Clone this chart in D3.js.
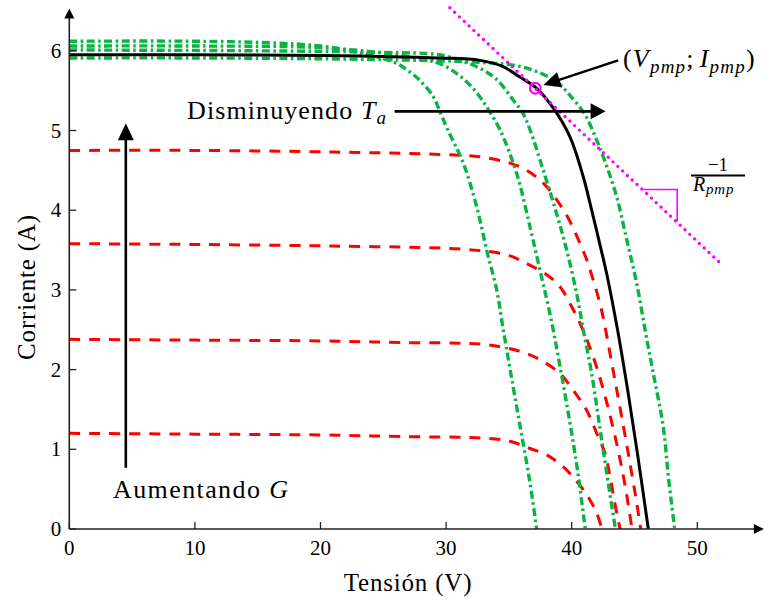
<!DOCTYPE html>
<html>
<head>
<meta charset="utf-8">
<script src="https://cdn.jsdelivr.net/npm/d3@7"></script>
<style>
  body { margin: 0; background: #fff; }
  svg text { font-family: "Liberation Serif", "Times New Roman", Tinos, "DejaVu Serif", serif; }
</style>
</head>
<body>
<div id="chart"></div>
<script>
const WIDTH = 764;
const HEIGHT = 601;
const X_END = 55.3;
const Y_END = 6.53;
const SERIF = '"Liberation Serif", "Times New Roman", Tinos, "DejaVu Serif", serif';

// tick labels
const X_TICKS = [0, 10, 20, 30, 40, 50];
const Y_TICKS = [0, 1, 2, 3, 4, 5, 6];

// reference curve (black), [V, I]
const CURVE_STC = [[0, 5.95], [10, 5.95], [20, 5.94], [24.7, 5.93], [29.5, 5.91], [32.7, 5.88],
  [34.55, 5.80], [35.88, 5.67], [37.21, 5.53], [38.54, 5.28], [39.86, 4.92], [40.92, 4.42],
  [41.59, 4.0], [42.2, 3.6], [42.79, 3.2], [43.65, 2.5], [44.45, 1.75], [45.25, 0.93], [46.1, 0]];

// temperature curves (green dash-dot)
const TEMP_1 = [[0, 6.12], [10, 6.12], [16, 6.10], [20, 6.06], [23, 5.98], [25.8, 5.86], [26.9, 5.76],
  [27.9, 5.63], [29.0, 5.42], [29.5, 5.24], [30.1, 5.02], [31.37, 4.59], [32.44, 4.04], [33.23, 3.5],
  [34.03, 3.0], [34.5, 2.55], [35.1, 2.0], [35.88, 1.3], [36.68, 0.58], [37.21, 0]];
const TEMP_2 = [[0, 6.06], [10, 6.06], [20, 6.04], [25, 5.97], [28.2, 5.89], [29.5, 5.84], [30.8, 5.72],
  [31.9, 5.57], [32.7, 5.42], [33.45, 5.24], [34.29, 5.01], [35.62, 4.46], [36.68, 3.79], [37.47, 3.25],
  [38.27, 2.7], [39.0, 2.1], [39.86, 1.33], [40.45, 0.75], [41.08, 0]];
const TEMP_3 = [[0, 6.01], [15, 6.0], [25, 5.98], [29.5, 5.95], [31.1, 5.88], [32.7, 5.78], [34.03, 5.64],
  [35.35, 5.38], [36.1, 5.22], [36.68, 5.01], [37.74, 4.5], [38.81, 3.95], [39.6, 3.5], [40.4, 2.95],
  [40.92, 2.5], [41.59, 1.95], [42.25, 1.26], [42.79, 0.7], [43.48, 0]];
const TEMP_4 = [[0, 5.91], [10, 5.91], [20, 5.9], [28, 5.88], [31.9, 5.86], [35.35, 5.82], [37.21, 5.74],
  [38.81, 5.61], [39.86, 5.44], [41.05, 5.2], [41.99, 4.88], [42.79, 4.55], [43.58, 4.17], [44.38, 3.63],
  [45.18, 3.08], [45.84, 2.5], [46.5, 1.95], [47.29, 1.28], [47.7, 0.65], [48.2, 0]];

// irradiance curves (red dashed)
const IRR_1 = [[0, 1.2], [10, 1.19], [20, 1.18], [26.35, 1.16], [32.96, 1.14], [35.09, 1.1], [36.68, 1.01],
  [38.01, 0.93], [39.33, 0.78], [40.4, 0.6], [41.32, 0.4], [41.99, 0.2], [42.4, 0]];
const IRR_2 = [[0, 2.38], [10, 2.37], [20, 2.36], [26.35, 2.34], [32.7, 2.32], [34.83, 2.27], [36.42, 2.2],
  [37.74, 2.1], [39.07, 1.95], [40.13, 1.74], [41.19, 1.49], [41.99, 1.2], [42.65, 0.95], [43.05, 0.66],
  [43.4, 0.35], [43.85, 0]];
const IRR_3 = [[0, 3.58], [10, 3.57], [21, 3.55], [31.37, 3.51], [34.83, 3.44], [36.42, 3.33], [38.01, 3.19],
  [39.07, 3.04], [39.86, 2.83], [40.66, 2.58], [41.32, 2.33], [41.99, 2.03], [42.6, 1.7], [43.2, 1.33],
  [43.75, 0.95], [44.3, 0.5], [44.8, 0]];
const IRR_4 = [[0, 4.75], [10, 4.75], [21, 4.73], [29.5, 4.7], [32.7, 4.67], [35.09, 4.59], [36.42, 4.5],
  [37.74, 4.34], [38.81, 4.13], [39.73, 3.9], [40.53, 3.63], [41.19, 3.38], [41.72, 3.12], [42.25, 2.83],
  [42.65, 2.54], [43.25, 2.03], [43.85, 1.52], [44.5, 0.95], [45.1, 0.4], [45.5, 0]];

// maximum power point and its tangent
const MPP = [37.1, 5.53];
const TANGENT = [[30.3, 6.54], [51.8, 3.34]];
const SLOPE_MARK = [[45.7, 4.26], [48.4, 4.26], [48.4, 3.86]];

let svg, x, y;

function buildScales() {
  x = d3.scaleLinear().domain([0, 50]).range([69.3, 697.3]);
  y = d3.scaleLinear().domain([0, 6]).range([529, 50.8]);
}

function arrow(g, from, to, len, half, width) {
  let x1 = x(from[0]), y1 = y(from[1]);
  let x2 = x(to[0]), y2 = y(to[1]);
  let a = Math.atan2(y2 - y1, x2 - x1);
  let bx = x2 - len * Math.cos(a), by = y2 - len * Math.sin(a);
  g.append('line')
    .attr('x1', x1).attr('y1', y1)
    .attr('x2', bx + 2 * Math.cos(a)).attr('y2', by + 2 * Math.sin(a))
    .attr('stroke', '#000')
    .attr('stroke-width', width);
  g.append('path')
    .attr('d', `M${x2},${y2} L${bx - half * Math.sin(a)},${by + half * Math.cos(a)} L${bx + half * Math.sin(a)},${by - half * Math.cos(a)} Z`)
    .attr('fill', '#000');
}

function buildAxis() {
  let g = svg.append('g').attr('class', 'axisGroup');

  g.append('line')
    .attr('x1', x(0)).attr('y1', y(0)).attr('x2', x(X_END) - 8).attr('y2', y(0))
    .attr('stroke', '#222').attr('stroke-width', 1.6);
  g.append('line')
    .attr('x1', x(0)).attr('y1', y(0)).attr('x2', x(0)).attr('y2', y(Y_END) + 8)
    .attr('stroke', '#222').attr('stroke-width', 1.6);
  g.append('path')
    .attr('d', `M${x(X_END)},${y(0)} l-10,-5 l0,10 Z`)
    .attr('fill', '#000');
  g.append('path')
    .attr('d', `M${x(0)},${y(Y_END)} l-5,10 l10,0 Z`)
    .attr('fill', '#000');

  g.selectAll('.xtick')
    .data(X_TICKS)
    .enter()
    .append('line')
    .attr('class', 'xtick')
    .attr('x1', (d) => x(d)).attr('x2', (d) => x(d))
    .attr('y1', y(0)).attr('y2', y(0) - 7)
    .attr('stroke', '#222').attr('stroke-width', 1.3);
  g.selectAll('.ytick')
    .data(Y_TICKS)
    .enter()
    .append('line')
    .attr('class', 'ytick')
    .attr('x1', x(0)).attr('x2', x(0) + 7)
    .attr('y1', (d) => y(d)).attr('y2', (d) => y(d))
    .attr('stroke', '#222').attr('stroke-width', 1.3);

  g.selectAll('.xlabel')
    .data(X_TICKS)
    .enter()
    .append('text')
    .attr('class', 'xlabel')
    .attr('x', (d) => x(d))
    .attr('y', y(0) + 26)
    .attr('text-anchor', 'middle')
    .attr('font-size', 21)
    .text((d) => d);
  g.selectAll('.ylabel')
    .data(Y_TICKS)
    .enter()
    .append('text')
    .attr('class', 'ylabel')
    .attr('x', x(0) - 8)
    .attr('y', (d) => y(d) + 7)
    .attr('text-anchor', 'end')
    .attr('font-size', 21)
    .text((d) => d);

  g.append('text')
    .attr('x', 408).attr('y', 591)
    .attr('text-anchor', 'middle')
    .attr('font-size', 25)
    .attr('letter-spacing', 0.8)
    .text('Tensión (V)');
  g.append('text')
    .attr('transform', 'translate(35,287) rotate(-90)')
    .attr('text-anchor', 'middle')
    .attr('font-size', 25)
    .attr('letter-spacing', 0.8)
    .text('Corriente (A)');
}

function buildCurves() {
  let line = d3.line()
    .x((d) => x(d[0]))
    .y((d) => y(d[1]))
    .curve(d3.curveCatmullRom.alpha(0.5));

  let red = svg.append('g').attr('class', 'irrGroup');
  red.selectAll('path')
    .data([IRR_1, IRR_2, IRR_3, IRR_4])
    .enter()
    .append('path')
    .attr('d', line)
    .attr('fill', 'none')
    .attr('stroke', '#ff0000')
    .attr('stroke-width', 3)
    .attr('stroke-dasharray', '11 9');

  let green = svg.append('g').attr('class', 'tempGroup');
  green.selectAll('path')
    .data([TEMP_1, TEMP_2, TEMP_3, TEMP_4])
    .enter()
    .append('path')
    .attr('d', line)
    .attr('fill', 'none')
    .attr('stroke', '#0ab343')
    .attr('stroke-width', 3.4)
    .attr('stroke-dasharray', '8 3.5 2.5 3.5');

  svg.append('path')
    .datum(CURVE_STC)
    .attr('d', line)
    .attr('fill', 'none')
    .attr('stroke', '#000')
    .attr('stroke-width', 3);
}

function sub(t, s, size, shift) {
  t.append('tspan').attr('font-style', 'italic').attr('font-size', size).attr('dy', shift).text(s);
}

function buildMeta() {
  let g = svg.append('g').attr('class', 'metaGroup').attr('font-family', SERIF);
  let line = d3.line().x((d) => x(d[0])).y((d) => y(d[1]));

  g.append('path')
    .datum(TANGENT)
    .attr('d', line)
    .attr('stroke', '#ff00ff')
    .attr('stroke-width', 3.4)
    .attr('stroke-linecap', 'round')
    .attr('stroke-dasharray', '0 6.6');
  g.append('path')
    .datum(SLOPE_MARK)
    .attr('d', line)
    .attr('fill', 'none')
    .attr('stroke', '#ff00ff')
    .attr('stroke-width', 1.6);
  g.append('circle')
    .attr('cx', x(MPP[0])).attr('cy', y(MPP[1]))
    .attr('r', 5.3)
    .attr('fill', 'none')
    .attr('stroke', '#ff00ff')
    .attr('stroke-width', 2.2);

  arrow(g, [4.5, 0.77], [4.5, 5.09], 17, 8, 2.6);
  arrow(g, [25.9, 5.24], [42.7, 5.24], 15, 8, 2.6);
  arrow(g, [43.7, 5.88], [37.74, 5.57], 17, 8, 2.6);

  let t1 = g.append('text')
    .attr('x', 187).attr('y', 119)
    .attr('font-size', 26)
    .attr('letter-spacing', 1.1);
  t1.append('tspan').text('Disminuyendo ');
  t1.append('tspan').attr('font-style', 'italic').text('T');
  sub(t1, 'a', 19, 5);

  g.append('text')
    .attr('x', 113).attr('y', 498)
    .attr('font-size', 26)
    .attr('letter-spacing', 1.4)
    .html('Aumentando <tspan font-style="italic">G</tspan>');

  let t3 = g.append('text')
    .attr('x', 623).attr('y', 67)
    .attr('font-size', 26)
    .attr('letter-spacing', 1.2);
  t3.append('tspan').text('(');
  t3.append('tspan').attr('font-style', 'italic').text('V');
  sub(t3, 'pmp', 19, 6);
  t3.append('tspan').attr('dy', -6).text(';');
  t3.append('tspan').attr('font-style', 'italic').attr('dx', 5).text('I');
  sub(t3, 'pmp', 19, 6);
  t3.append('tspan').attr('dy', -6).text(')');

  g.append('text')
    .attr('x', 718).attr('y', 171)
    .attr('text-anchor', 'middle')
    .attr('font-size', 19)
    .text('−1');
  g.append('line')
    .attr('x1', 691).attr('x2', 745)
    .attr('y1', 175.5).attr('y2', 175.5)
    .attr('stroke', '#000').attr('stroke-width', 1.8);
  let t4 = g.append('text')
    .attr('x', 693).attr('y', 191)
    .attr('font-size', 20)
    .attr('letter-spacing', 0.8);
  t4.append('tspan').attr('font-style', 'italic').text('R');
  sub(t4, 'pmp', 15, 3);
}

function buildChart(selector) {
  svg = d3.select(selector).append('svg')
    .attr('width', WIDTH)
    .attr('height', HEIGHT)
    .attr('font-family', SERIF);

  buildScales();
  buildCurves();
  buildAxis();
  buildMeta();
}

buildChart('#chart');
</script>
</body>
</html>
